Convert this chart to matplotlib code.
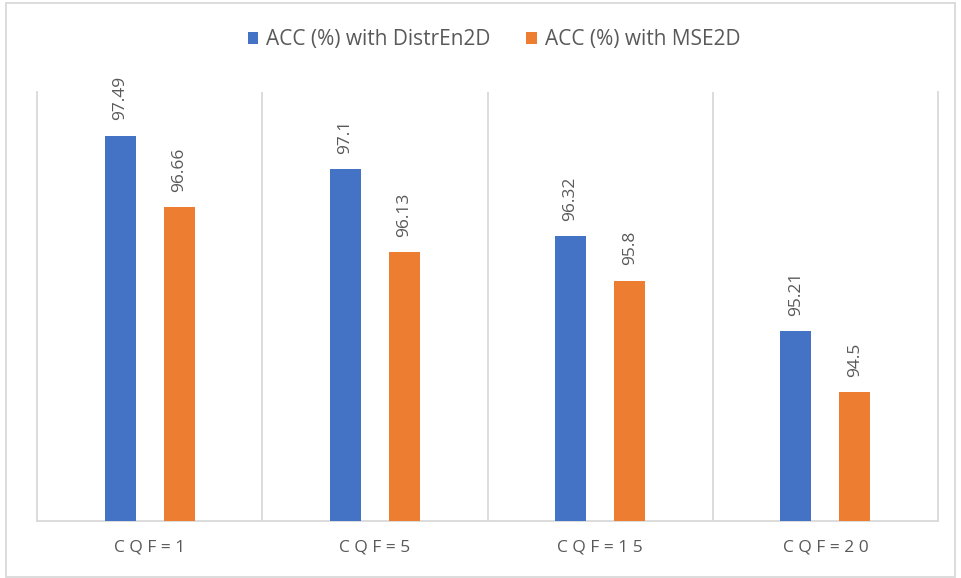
import matplotlib
matplotlib.use("Agg")
import matplotlib.pyplot as plt
import numpy as np

categories = ["CQF=1", "CQF=5", "CQF=15", "CQF=20"]
acc_distren2d = [97.49, 97.1, 96.32, 95.21]
acc_mse2d = [96.66, 96.13, 95.8, 94.5]
series_names = ["ACC (%) with DistrEn2D", "ACC (%) with MSE2D"]

BLUE = "#4472c4"
ORANGE = "#ed7d31"
TEXT = "#595959"
GRID = "#d9d9d9"

plt.rcParams["font.family"] = ["Open Sans", "DejaVu Sans"]

W, H = 961, 578
fig = plt.figure(figsize=(W / 100, H / 100), dpi=100)
ax = fig.add_axes([37 / W, (H - 521) / H, (938 - 37) / W, (521 - 92) / H])

x = np.arange(len(categories))
bw = 0.138
off = 0.131
b1 = ax.bar(x - off, acc_distren2d, bw, color=BLUE, label=series_names[0], zorder=3)
b2 = ax.bar(x + off, acc_mse2d, bw, color=ORANGE, label=series_names[1], zorder=3)

ax.set_ylim(93, 98)
ax.set_xlim(-0.5, len(categories) - 0.5)

for bars, vals in ((b1, acc_distren2d), (b2, acc_mse2d)):
    for rect, v in zip(bars, vals):
        ax.annotate(f"{v:g}", (rect.get_x() + rect.get_width() / 2, v),
                    xytext=(0, 11), textcoords="offset points",
                    rotation=90, ha="center", va="bottom",
                    fontsize=12.5, color=TEXT)

# category separators
for b in np.arange(0.5, len(categories) - 0.5, 1):
    ax.axvline(b, color=GRID, lw=1.3, zorder=1)

ax.spines["top"].set_visible(False)
for s in ("left", "right", "bottom"):
    ax.spines[s].set_color(GRID)
    ax.spines[s].set_linewidth(1.3)

ax.set_yticks([])
ax.set_xticks(x)
ax.set_xticklabels([" ".join(c) for c in categories], fontsize=12.5, color=TEXT)
ax.tick_params(axis="x", length=0, pad=13)

leg = fig.legend(loc="center", bbox_to_anchor=(494 / W, 1 - 40 / H), ncol=2,
                 frameon=False, fontsize=15, handlelength=0.5, handleheight=0.5,
                 columnspacing=1.7, handletextpad=0.4)
for t in leg.get_texts():
    t.set_color(TEXT)

# chart frame
fig.patches.append(plt.Rectangle((6 / W, 1 / H), (955 - 6) / W, (575 - 1) / H,
                                  transform=fig.transFigure, fill=False,
                                  edgecolor=GRID, lw=1.3))

fig.savefig("out.png", dpi=100)
